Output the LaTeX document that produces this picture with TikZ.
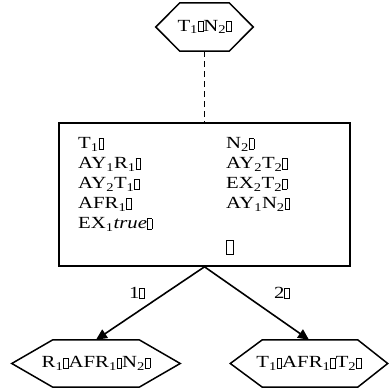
\documentclass[tikz,border=0pt]{standalone}
\usepackage{fontspec}
\setmainfont{Liberation Serif}[FakeStretch=1.22]
\usetikzlibrary{arrows.meta,calc}
\newcommand{\tofu}{{\fboxsep=0pt\fboxrule=0.8pt\fbox{\rule{0pt}{9.5pt}\kern3.8pt}}}
\newcommand{\bigtofu}{{\fboxsep=0pt\fboxrule=0.9pt\fbox{\rule[-3pt]{0pt}{13pt}\kern5.5pt}}}
\newcommand{\sbs}[1]{\textsubscript{#1}}
\newcommand{\hexpath}[3]{%
  \draw[hexline] (#1.west) -- ($(#1.north west)+(#2,0)$) -- ($(#1.north east)+(-#3,0)$)
    -- (#1.east) -- ($(#1.south east)+(-#3,0)$) -- ($(#1.south west)+(#2,0)$) -- cycle;}
\tikzset{
  hexbox/.style={rectangle, inner sep=0pt, font=\fontsize{17}{20}\selectfont},
  hexline/.style={line width=1.5pt, line join=miter},
  mainbox/.style={draw, line width=1.6pt, rectangle, inner sep=0pt},
  txt/.style={anchor=base west, inner sep=0pt, font=\fontsize{17}{20}\selectfont},
  lbl/.style={inner sep=0pt, font=\fontsize{17}{20}\selectfont},
  branch/.style={line width=1.6pt, -{Triangle[length=11pt,width=10pt]}},
  dashline/.style={line width=1.4pt, dash pattern=on 6pt off 4pt}
}
\begin{document}
\begin{tikzpicture}[x=1pt,y=1pt]
\useasboundingbox (0,0) rectangle (389,392);
\node[hexbox, minimum width=97, minimum height=48] (top) at (204.5,365) {T\sbs{1}\tofu N\sbs{2}\tofu};
\hexpath{top}{24}{24}
\node[mainbox, minimum width=291, minimum height=143] (box) at (204.5,197.5) {};
\node[txt] (l1) at (78,243.5) {T\sbs{1}\tofu};
\node[txt] (l2) at (78,223.5) {AY\sbs{1}R\sbs{1}\tofu};
\node[txt] (l3) at (78,203) {AY\sbs{2}T\sbs{1}\tofu};
\node[txt] (l4) at (78,183.5) {AFR\sbs{1}\tofu};
\node[txt] (l5) at (78,163.5) {EX\sbs{1}\textit{true}\tofu};
\node[txt] (r1) at (226,243.5) {N\sbs{2}\tofu};
\node[txt] (r2) at (226,223.5) {AY\sbs{2}T\sbs{2}\tofu};
\node[txt] (r3) at (226,203) {EX\sbs{2}T\sbs{2}\tofu};
\node[txt] (r4) at (226,183.5) {AY\sbs{1}N\sbs{2}\tofu};
\node[txt] (r5) at (226,141) {\bigtofu};
\draw[dashline] (top.south) -- (box.north);
\node[hexbox, minimum width=168, minimum height=47] (lhex) at (96,28.5) {R\sbs{1}\tofu AFR\sbs{1}\tofu N\sbs{2}\tofu};
\hexpath{lhex}{41}{41}
\node[hexbox, minimum width=157, minimum height=47] (rhex) at (309,28.5) {T\sbs{1}\tofu AFR\sbs{1}\tofu T\sbs{2}\tofu};
\hexpath{rhex}{32}{30}
\draw[branch] (box.south) -- (lhex.north);
\draw[branch] (box.south) -- (rhex.north);
\node[lbl] (b1) at (137,99) {1\tofu};
\node[lbl] (b2) at (282,99) {2\tofu};
\end{tikzpicture}
\end{document}
